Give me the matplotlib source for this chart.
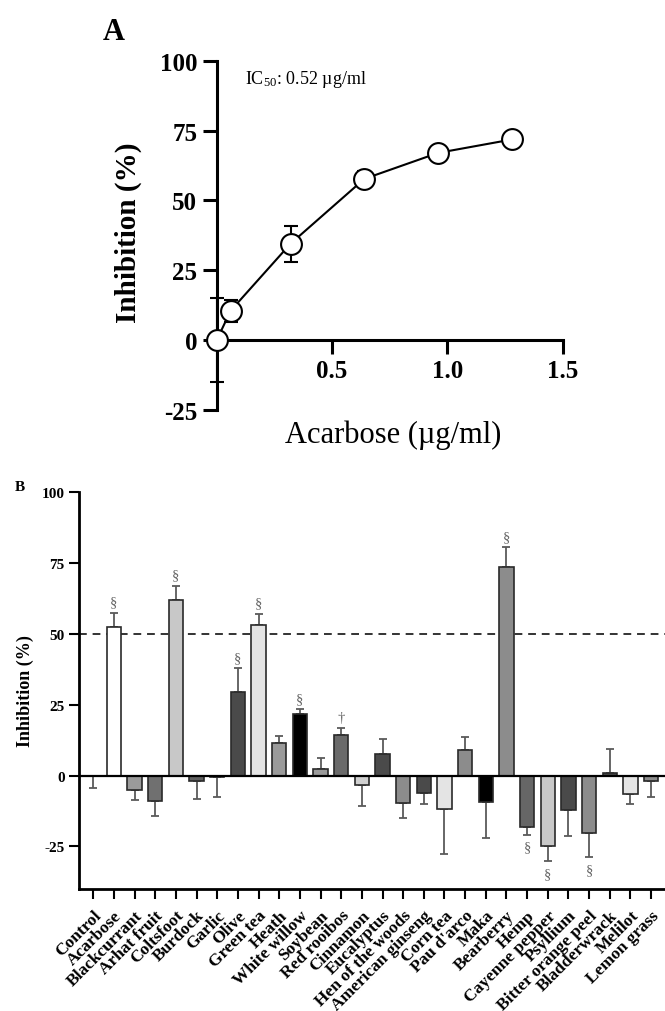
import numpy as np
import matplotlib
matplotlib.use('Agg')
import matplotlib.pyplot as plt

plt.rcParams['font.family'] = ['Liberation Serif', 'DejaVu Serif']
plt.rcParams['mathtext.fontset'] = 'custom'
plt.rcParams['mathtext.rm'] = 'Liberation Serif'
plt.rcParams['mathtext.it'] = 'Liberation Serif:italic'
plt.rcParams['mathtext.bf'] = 'Liberation Serif:bold'
plt.rcParams['axes.unicode_minus'] = False

# Panel A data: acarbose dose-response
conc = [0, 0.06, 0.32, 0.64, 0.96, 1.28]
inhib = [0, 10.5, 34.5, 57.7, 67.0, 71.8]
inhib_err = [15, 4, 6.5, 3, 1, 1]

# Panel B data: herbal extracts
herbs = ['Control', 'Acarbose', 'Blackcurrant', 'Arhat fruit', 'Coltsfoot', 'Burdock',
         'Garlic', 'Olive', 'Green tea', 'Heath', 'White willow', 'Soybean',
         'Red rooibos', 'Cinnamon', 'Eucalyptus', 'Hen of the woods', 'American ginseng',
         'Corn tea', "Pau d'arco", 'Maka', 'Bearberry', 'Hemp', 'Cayenne pepper',
         'Psyllium', 'Bitter orange peel', 'Bladderwrack', 'Melilot', 'Lemon grass']
values = [0, 52.5, -5.1, -8.8, 62.0, -1.9, -0.5, 29.6, 53.3, 11.6, 21.9, 2.2,
          14.3, -3.3, 7.6, -9.8, -6.2, -11.7, 9.0, -9.2, 73.6, -18.3, -25.0,
          -12.3, -20.3, 1.0, -6.5, -1.9]
errors = [4.5, 5.0, 3.5, 5.6, 5.0, 6.4, 7.2, 8.4, 3.9, 2.4, 1.6, 3.9,
          2.4, 7.6, 5.2, 5.0, 3.8, 16.0, 4.7, 12.9, 7.0, 2.6, 5.3,
          9.0, 8.5, 8.3, 3.5, 5.8]
colors = ['white', 'white', '#9a9a9a', '#707070', '#c8c8c8', '#606060',
          '#8a8a8a', '#4a4a4a', '#e4e4e4', '#9a9a9a', '#000000', '#9a9a9a',
          '#6a6a6a', '#d0d0d0', '#4a4a4a', '#8c8c8c', '#4a4a4a', '#e4e4e4',
          '#8c8c8c', '#000000', '#8c8c8c', '#666666', '#c8c8c8', '#4a4a4a',
          '#8c8c8c', '#4a4a4a', '#e4e4e4', '#8c8c8c']
marks = ['', '§', '', '', '§', '', '', '§', '§', '', '§', '', '†', '', '', '', '',
         '', '', '', '§', '§', '§', '', '§', '', '', '']

fig = plt.figure(figsize=(6.65, 10.12), dpi=100)

# ---------------- Panel A ----------------
axA = fig.add_axes([0.326, 0.594, 0.520, 0.345])
axA.errorbar(conc, inhib, yerr=inhib_err, color='black', lw=1.5, capsize=5, capthick=1.5,
             marker='o', ms=15, mfc='white', mec='black', mew=1.5, clip_on=False, zorder=3)
axA.set_xlim(0, 1.5)
axA.set_ylim(-25, 100)
axA.spines['top'].set_visible(False)
axA.spines['right'].set_visible(False)
axA.spines['bottom'].set_position(('data', 0))
for s in ['left', 'bottom']:
    axA.spines[s].set_linewidth(2.2)
axA.set_xticks([0.5, 1.0, 1.5])
axA.set_xticklabels(['0.5', '1.0', '1.5'])
axA.set_yticks([-25, 0, 25, 50, 75, 100])
axA.tick_params(width=2.2, length=10, labelsize=18, pad=4)
for lbl in axA.get_xticklabels() + axA.get_yticklabels():
    lbl.set_fontweight('bold')

fig.text(0.1925, 0.77, 'Inhibition (%)', rotation=90, fontsize=21, fontweight='bold',
         ha='center', va='center')
fig.text(0.591, 0.570, 'Acarbose (µg/ml)', fontsize=22, ha='center', va='center')
fig.text(0.155, 0.968, 'A', fontsize=22, fontweight='bold', ha='left', va='center')
fig.text(0.368, 0.921, r'IC$_{50}$: 0.52 µg/ml', fontsize=13, ha='left', va='center')

# ---------------- Panel B ----------------
axB = fig.add_axes([0.119, 0.1206, 0.881, 0.392])
x = np.arange(len(herbs))
vals = np.array(values)
errs = np.array(errors)
lower = np.where(vals <= 0, errs, 0)
upper = np.where(vals > 0, errs, 0)

axB.bar(x, vals, width=0.68, color=colors, edgecolor='#2a2a2a', linewidth=1.2, zorder=2)
axB.errorbar(x, vals, yerr=[lower, upper], fmt='none', ecolor='#5a5a5a', elinewidth=1.3,
             capsize=3, capthick=1.3, zorder=1)
axB.axhline(0, color='black', lw=1.6, zorder=3)
axB.axhline(50, color='#333333', lw=1.4, ls=(0, (4, 3)), zorder=1)

for i, m in enumerate(marks):
    if not m:
        continue
    if vals[i] > 0:
        axB.annotate(m, (x[i], vals[i] + errs[i]), xytext=(0, 3), textcoords='offset points',
                     ha='center', va='bottom', fontsize=10.5, color='#666666')
    else:
        axB.annotate(m, (x[i], vals[i] - errs[i]), xytext=(0, -4), textcoords='offset points',
                     ha='center', va='top', fontsize=10.5, color='#666666')

axB.set_xlim(-0.68, 27.67)
axB.set_ylim(-40, 100)
axB.spines['top'].set_visible(False)
axB.spines['right'].set_visible(False)
for s in ['left', 'bottom']:
    axB.spines[s].set_linewidth(2)
axB.set_yticks([-25, 0, 25, 50, 75, 100])
axB.set_xticks(x)
axB.set_xticklabels(herbs, rotation=45, ha='right', va='top', rotation_mode='anchor',
                    fontsize=12.5, fontweight='bold')
axB.tick_params(width=1.5, length=7)
axB.tick_params(axis='x', pad=6)
axB.tick_params(axis='y', labelsize=11)
for lbl in axB.get_yticklabels():
    lbl.set_fontweight('bold')

fig.text(0.0376, 0.317, 'Inhibition (%)', rotation=90, fontsize=13, fontweight='bold',
         ha='center', va='center')
fig.text(0.022, 0.518, 'B', fontsize=11, fontweight='bold', ha='left', va='center')

fig.savefig('out.png', dpi=100)
